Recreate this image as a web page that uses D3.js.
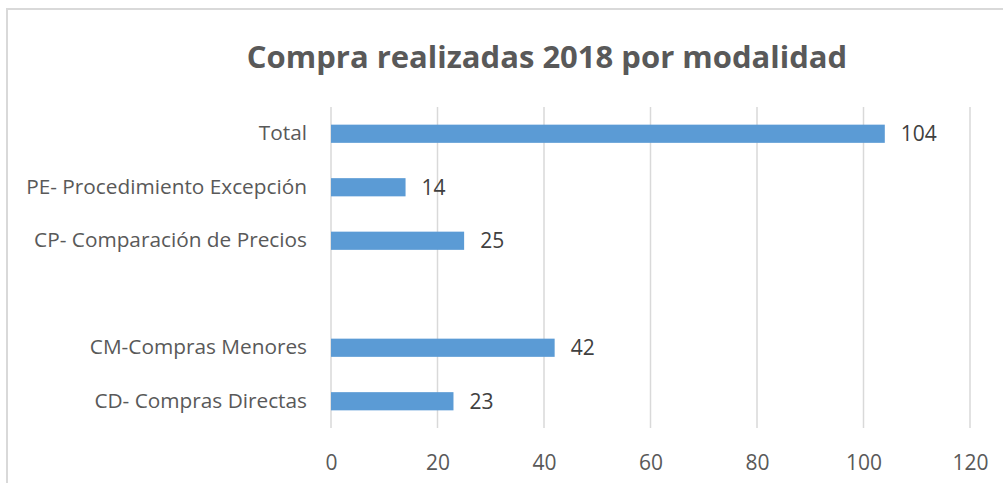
<!DOCTYPE html>
<html>
<head>
<meta charset="utf-8">
<script src="https://cdn.jsdelivr.net/npm/d3@7"></script>
<style>
  body { margin: 0; background: #fff; }
  svg { display: block; }
</style>
</head>
<body>
<svg id="chart"></svg>
<script>
const categories = [
  "Total",
  "PE- Procedimiento Excepción",
  "CP- Comparación de Precios",
  "",
  "CM-Compras Menores",
  "CD- Compras Directas"
];
const values = [104, 14, 25, null, 42, 23];
const xTicks = [0, 20, 40, 60, 80, 100, 120];
const title = "Compra realizadas 2018 por modalidad";

const width = 1003;
const height = 483;
const margin = { top: 107, right: 33, bottom: 55, left: 331 };
const font = "'Open Sans', sans-serif";
const textColor = "#595959";

const data = categories.map((name, i) => ({ key: "c" + i, name, value: values[i] }));

const svg = d3.select("svg#chart").attr("width", width).attr("height", height);

// chart frame (only top and left edges show in the crop)
svg.append("rect")
  .attr("x", 7).attr("y", 9)
  .attr("width", 1010).attr("height", 490)
  .style("fill", "#fff")
  .style("stroke", "#d9d9d9")
  .style("stroke-width", 2);

const xScale = d3.scaleLinear([0, 120], [margin.left, width - margin.right]);
const yScale = d3.scaleBand(data.map(d => d.key), [margin.top, height - margin.bottom])
  .paddingInner(0.66)
  .paddingOuter(0.33);

// gridlines
svg.append("g")
  .selectAll("line")
  .data(xTicks)
  .join("line")
  .attr("x1", d => xScale(d))
  .attr("x2", d => xScale(d))
  .attr("y1", margin.top)
  .attr("y2", height - margin.bottom)
  .style("stroke", "#d9d9d9")
  .style("stroke-width", 1.5);

// bars
svg.append("g")
  .selectAll("rect")
  .data(data.filter(d => d.value != null))
  .join("rect")
  .attr("x", xScale(0))
  .attr("y", d => yScale(d.key))
  .attr("width", d => xScale(d.value) - xScale(0))
  .attr("height", yScale.bandwidth())
  .style("fill", "#5b9bd5");

// value labels
svg.append("g")
  .selectAll("text")
  .data(data.filter(d => d.value != null))
  .join("text")
  .attr("x", d => xScale(d.value) + 16)
  .attr("y", d => yScale(d.key) + yScale.bandwidth() / 2)
  .attr("dy", "0.35em")
  .style("font-family", font)
  .style("font-size", "21px")
  .style("fill", "#404040")
  .text(d => d.value);

// category axis
const yAxis = d3.axisLeft(yScale).tickSize(0).tickPadding(24).tickFormat((k, i) => categories[i]);
const gy = svg.append("g")
  .attr("transform", `translate(${margin.left}, 0)`)
  .call(yAxis);
gy.select(".domain").remove();
gy.selectAll("text")
  .style("font-family", font)
  .style("font-size", "20.8px")
  .style("fill", textColor);

// value axis
const xAxis = d3.axisBottom(xScale).tickValues(xTicks).tickSize(0).tickPadding(27);
const gx = svg.append("g")
  .attr("transform", `translate(0, ${height - margin.bottom})`)
  .call(xAxis);
gx.select(".domain").remove();
gx.selectAll("text")
  .style("font-family", font)
  .style("font-size", "21px")
  .style("fill", textColor);

// title
svg.append("text")
  .attr("x", 547)
  .attr("y", 57)
  .attr("dy", "0.35em")
  .attr("text-anchor", "middle")
  .style("font-family", font)
  .style("font-weight", "bold")
  .style("font-size", "31px")
  .style("fill", textColor)
  .text(title);
</script>
</body>
</html>
